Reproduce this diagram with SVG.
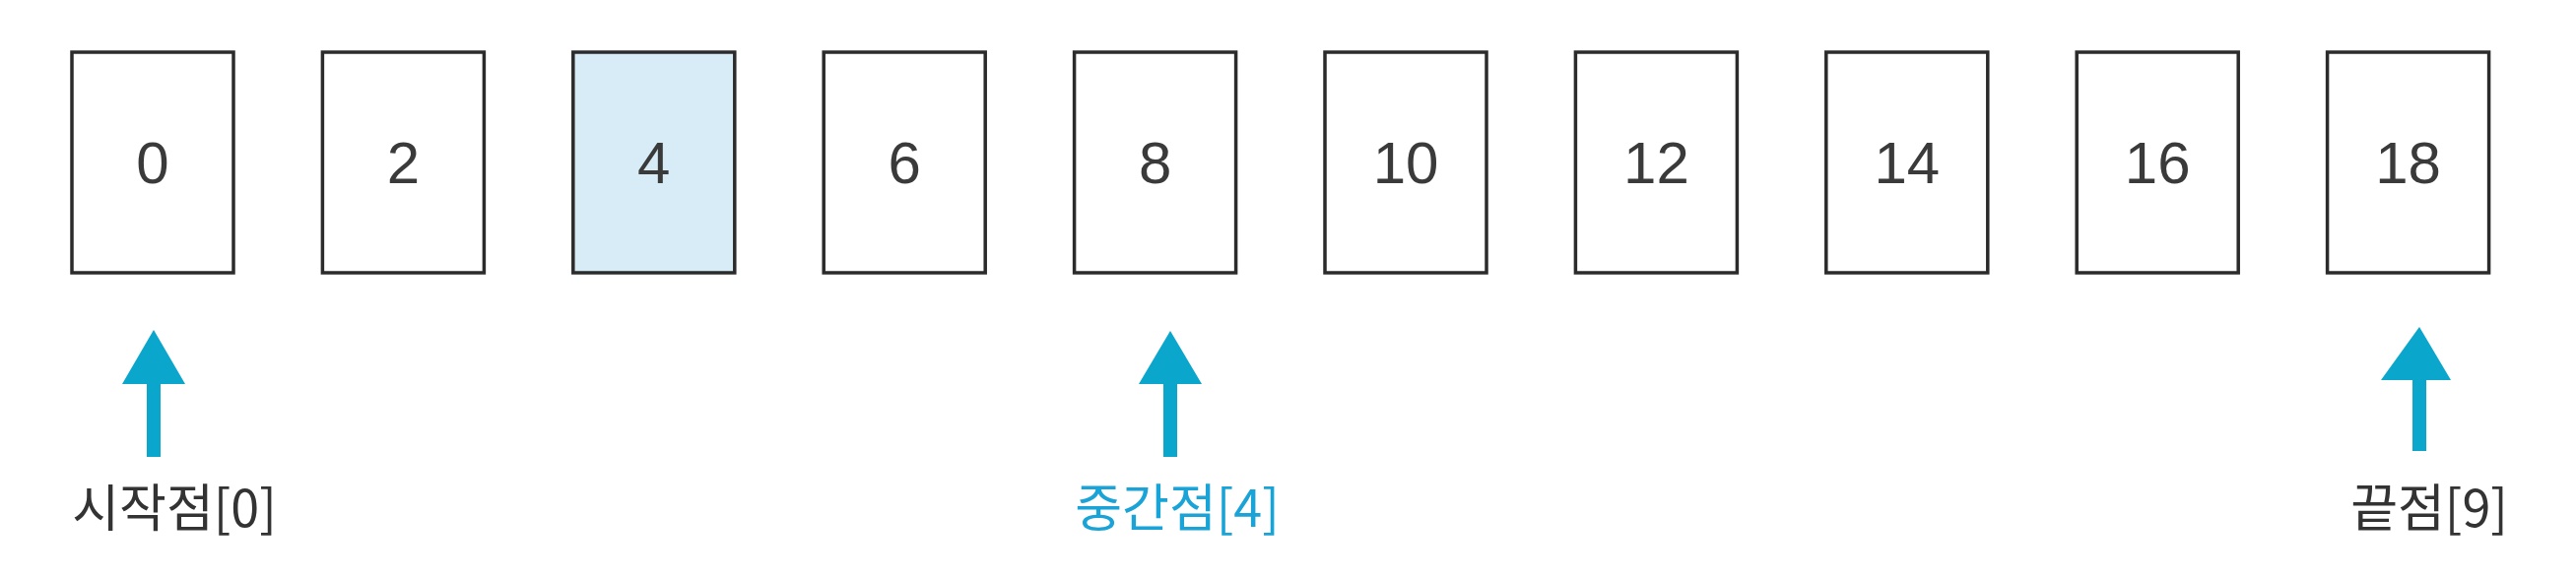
<svg xmlns="http://www.w3.org/2000/svg" width="2615" height="588" viewBox="0 0 2615 588">
<style>
.box{fill:#ffffff;stroke:#2b2b2b;stroke-width:3.5}
.hl{fill:#d8ecf7}
.num{font-family:"Liberation Sans",Arial,sans-serif;font-size:60px;fill:#3a3a3a;text-anchor:middle}
.lbl{font-family:"Noto Sans CJK KR","Noto Sans",sans-serif;font-size:52px;fill:#333333;text-anchor:middle}
.mid{fill:#1aa3d6}
.arrow{fill:#0aa6cc}
</style>
<rect width="2615" height="588" fill="#ffffff"/>
<g id="node-0"><rect class="box" x="73" y="53" width="164" height="224"/><text class="num" x="155" y="186">0</text></g>
<g id="node-1"><rect class="box" x="327.4" y="53" width="164" height="224"/><text class="num" x="409.4" y="186">2</text></g>
<g id="node-2"><rect class="box hl" x="581.8" y="53" width="164" height="224"/><text class="num" x="663.8" y="186">4</text></g>
<g id="node-3"><rect class="box" x="836.2" y="53" width="164" height="224"/><text class="num" x="918.2" y="186">6</text></g>
<g id="node-4"><rect class="box" x="1090.6" y="53" width="164" height="224"/><text class="num" x="1172.6" y="186">8</text></g>
<g id="node-5"><rect class="box" x="1345" y="53" width="164" height="224"/><text class="num" x="1427" y="186">10</text></g>
<g id="node-6"><rect class="box" x="1599.4" y="53" width="164" height="224"/><text class="num" x="1681.4" y="186">12</text></g>
<g id="node-7"><rect class="box" x="1853.8" y="53" width="164" height="224"/><text class="num" x="1935.8" y="186">14</text></g>
<g id="node-8"><rect class="box" x="2108.2" y="53" width="164" height="224"/><text class="num" x="2190.2" y="186">16</text></g>
<g id="node-9"><rect class="box" x="2362.6" y="53" width="164" height="224"/><text class="num" x="2444.6" y="186">18</text></g>
<g id="connectors">
<path class="arrow" d="M156 335 L188 390 L163 390 L163 464 L149 464 L149 390 L124 390 Z"/>
<path class="arrow" d="M1188 336 L1220 390 L1195 390 L1195 464 L1181 464 L1181 390 L1156 390 Z"/>
<path class="arrow" d="M2456 332 L2488 386 L2463 386 L2463 458 L2449 458 L2449 386 L2417 386 Z"/>
</g>
<g id="label-start"><text class="lbl" x="177" y="535">시작점[0]</text></g>
<g id="label-mid"><text class="lbl mid" x="1195" y="535">중간점[4]</text></g>
<g id="label-end"><text class="lbl" x="2466" y="535">끝점[9]</text></g>
</svg>
